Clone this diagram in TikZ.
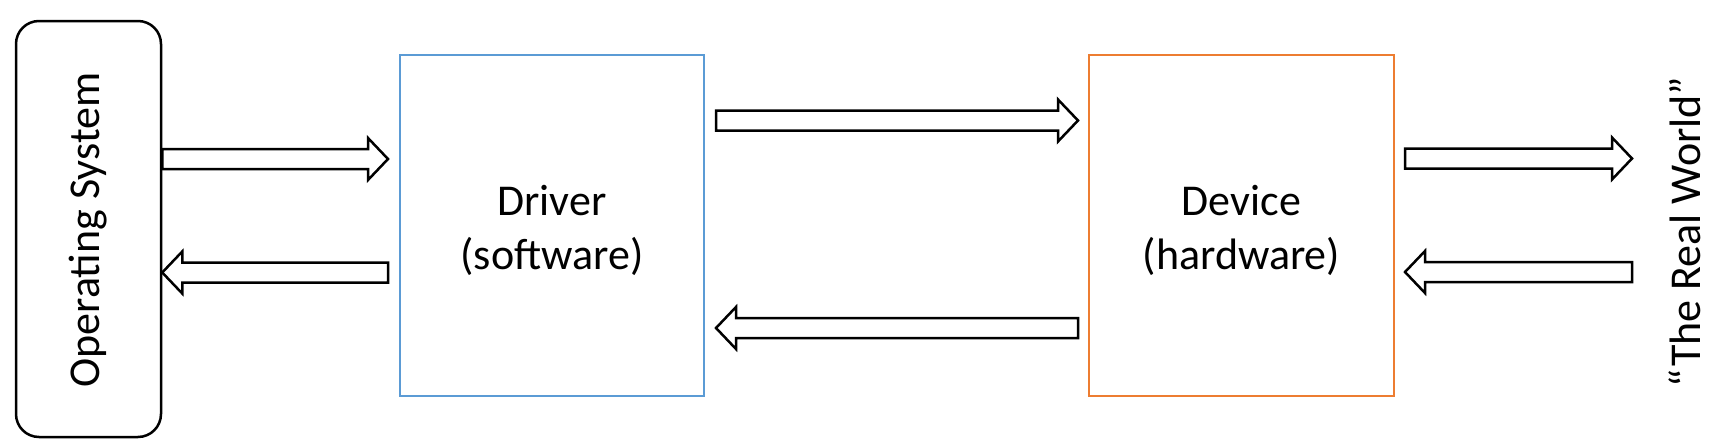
\documentclass[tikz,border=0pt]{standalone}
\usepackage{fontspec}
\setmainfont{Carlito}
\usetikzlibrary{calc}
\definecolor{drvblue}{HTML}{5B9BD5}
\definecolor{devorange}{HTML}{ED7D31}
\tikzset{
  lbl/.style={font=\fontsize{44}{54}\selectfont, align=center, inner sep=0pt},
  osbox/.style={draw=black, line width=2.5pt, rounded corners=23pt, minimum width=145pt, minimum height=416pt, inner sep=0pt},
  drvbox/.style={draw=drvblue, line width=2pt, minimum width=304pt, minimum height=341pt, inner sep=0pt},
  devbox/.style={draw=devorange, line width=2pt, minimum width=305pt, minimum height=341pt, inner sep=0pt},
  fat/.style={draw=black, line width=2.5pt, fill=white, line join=miter},
}
\newcommand\fatarrow[2]{%
  \path ($(#2)!20pt!(#1)$) coordinate (hb);
  \draw[fat] ([yshift=10pt]#1) -- ([yshift=10pt]hb) -- ([yshift=21pt]hb) -- (#2)
    -- ([yshift=-21pt]hb) -- ([yshift=-10pt]hb) -- ([yshift=-10pt]#1) -- cycle;}
\begin{document}
\begin{tikzpicture}[x=1pt,y=-1pt]
\useasboundingbox (0,0) rectangle (1717,447);
\node[osbox] (os) at (88.5,229) {};
\node[lbl, rotate=90] (ostxt) at (88,230) {Operating System};
\node[drvbox] (drv) at (552,225.5) {};
\node[lbl] (drvtxt) at (552,230) {Driver\\(software)};
\node[devbox] (dev) at (1241.5,225.5) {};
\node[lbl] (devtxt) at (1241.5,230) {Device\\(hardware)};
\node[lbl, rotate=90] (rw) at (1685,232) {“The Real World”};
% arrow end points
\coordinate (a1s) at (os.east |- 0,159);
\coordinate (a1e) at (388,159);
\coordinate (a2s) at (388,272.5);
\coordinate (a2e) at (os.east |- 0,272.5);
\coordinate (a3s) at (716,120.5);
\coordinate (a3e) at (1078,120.5);
\coordinate (a4s) at (1078,328);
\coordinate (a4e) at (716,328);
\coordinate (a5s) at (1405,158.5);
\coordinate (a5e) at (1632,158.5);
\coordinate (a6s) at (1632,272);
\coordinate (a6e) at (1405,272);
\fatarrow{a1s}{a1e}
\fatarrow{a2s}{a2e}
\fatarrow{a3s}{a3e}
\fatarrow{a4s}{a4e}
\fatarrow{a5s}{a5e}
\fatarrow{a6s}{a6e}
\end{tikzpicture}
\end{document}
